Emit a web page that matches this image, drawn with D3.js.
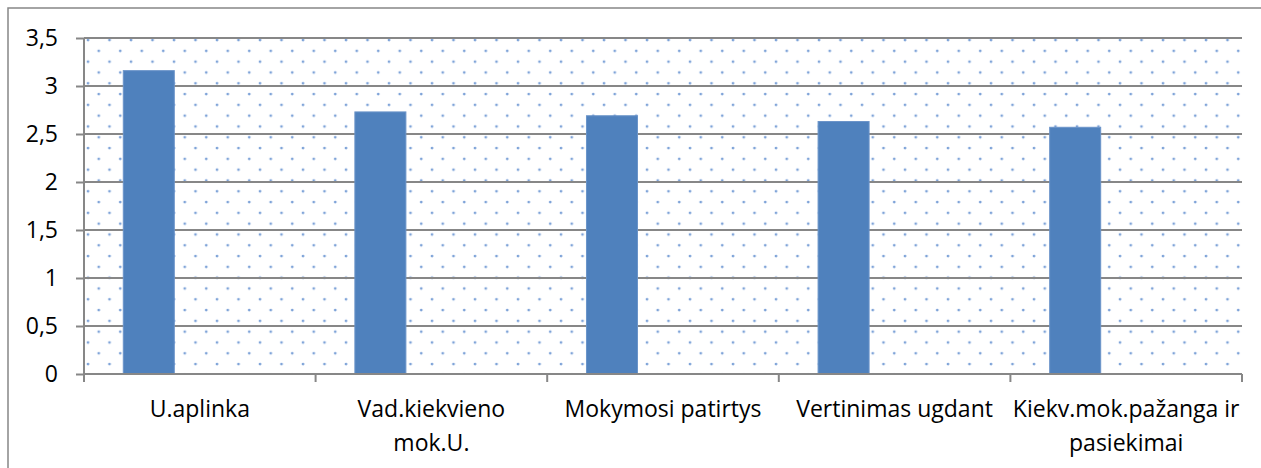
<!DOCTYPE html>
<html>
<head>
<meta charset="utf-8">
<script src="https://cdn.jsdelivr.net/npm/d3@7"></script>
<style>
  body { margin: 0; background: #fff; }
  text { font-family: "Open Sans", sans-serif; fill: #000; }
</style>
</head>
<body>
<svg width="1261" height="468"></svg>
<script>
const categories = [
  "U.aplinka",
  "Vad.kiekvieno\nmok.U.",
  "Mokymosi patirtys",
  "Vertinimas ugdant",
  "Kiekv.mok.pažanga ir\npasiekimai"
];
// Excel cluster with three series slots, only the first one filled
const seriesNames = ["Series1", "Series2", "Series3"];
const values = [3.16, 2.73, 2.69, 2.63, 2.57];
const yTickValues = [0, 0.5, 1, 1.5, 2, 2.5, 3, 3.5];

const svg = d3.select("svg");
const plotLeft = 84, plotRight = 1242, plotTop = 38, plotBottom = 374;
const gray = "#878787";
const fontSize = 23;

// outer chart frame (runs past the right/bottom edge)
svg.append("rect")
  .attr("x", 8).attr("y", 8)
  .attr("width", 1300).attr("height", 500)
  .attr("fill", "none").attr("stroke", gray).attr("stroke-width", 1.5);

const x = d3.scaleBand().domain(categories).range([plotLeft, plotRight]).paddingInner(0).paddingOuter(0);
const x1 = d3.scaleBand().domain(seriesNames).range([0, x.bandwidth()]).paddingInner(0).paddingOuter(0.77);
const y = d3.scaleLinear().domain([0, 3.5]).range([plotBottom, plotTop]);

// dotted background pattern
const defs = svg.append("defs");
const pat = defs.append("pattern")
  .attr("id", "dots")
  .attr("patternUnits", "userSpaceOnUse")
  .attr("x", 83).attr("y", 35.1)
  .attr("width", 21.5).attr("height", 21.6);
pat.append("circle").attr("cx", 5).attr("cy", 5).attr("r", 1.4).attr("fill", "#7ea3d8");
pat.append("circle").attr("cx", 15.75).attr("cy", 15.8).attr("r", 1.4).attr("fill", "#7ea3d8");

svg.append("rect")
  .attr("x", plotLeft).attr("y", plotTop)
  .attr("width", plotRight - plotLeft).attr("height", plotBottom - plotTop)
  .attr("fill", "url(#dots)");

// gridlines
svg.append("g")
  .selectAll("line")
  .data(yTickValues.slice(1))
  .join("line")
  .attr("x1", plotLeft).attr("x2", plotRight)
  .attr("y1", d => y(d)).attr("y2", d => y(d))
  .attr("stroke", gray).attr("stroke-width", 2);

// bars
svg.append("g")
  .selectAll("rect")
  .data(values)
  .join("rect")
  .attr("x", (d, i) => x(categories[i]) + x1(seriesNames[0]))
  .attr("width", x1.bandwidth())
  .attr("y", d => y(d))
  .attr("height", d => y(0) - y(d))
  .attr("fill", "#4f81bd")
  .attr("stroke", "#6b94c9")
  .attr("stroke-width", 1);

// y axis
const yAxis = d3.axisLeft(y)
  .tickValues(yTickValues)
  .tickSize(8)
  .tickPadding(18)
  .tickFormat(d => String(d).replace(".", ","));
const yG = svg.append("g")
  .attr("transform", `translate(${plotLeft},0)`)
  .call(yAxis);
yG.selectAll("path, line").attr("stroke", gray).attr("stroke-width", 2);
yG.select(".domain").attr("d", `M0,${plotBottom}V${plotTop}`);
yG.selectAll("text").attr("font-size", fontSize).attr("font-family", "Open Sans");

// x axis
const xAxis = d3.axisBottom(x).tickSize(0).tickFormat("");
const xG = svg.append("g")
  .attr("transform", `translate(0,${plotBottom})`)
  .call(xAxis);
xG.select(".domain").attr("d", `M${plotLeft},0H${plotRight}`).attr("stroke", gray).attr("stroke-width", 2);
xG.selectAll(".tick").remove();
xG.selectAll(".cat-tick")
  .data(categories.map(c => x(c)).concat([plotRight]))
  .join("line")
  .attr("x1", d => d).attr("x2", d => d)
  .attr("y1", 0).attr("y2", 8)
  .attr("stroke", gray).attr("stroke-width", 2);

const labels = svg.append("g")
  .selectAll("text")
  .data(categories)
  .join("text")
  .attr("text-anchor", "middle")
  .attr("font-size", fontSize)
  .attr("x", d => x(d) + x.bandwidth() / 2)
  .attr("y", 417);
labels.selectAll("tspan")
  .data(d => d.split("\n"))
  .join("tspan")
  .attr("x", function() { return this.parentNode.getAttribute("x"); })
  .attr("dy", (d, i) => i === 0 ? 0 : 34)
  .text(d => d);
</script>
</body>
</html>
